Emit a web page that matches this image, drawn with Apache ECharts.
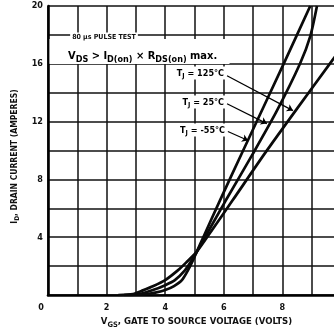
<!DOCTYPE html>
<html><head><meta charset="utf-8">
<script src="https://cdn.jsdelivr.net/npm/echarts@6/dist/echarts.min.js"></script>
<style>html,body{margin:0;padding:0;background:#fff}#c{width:334px;height:334px}</style>
</head><body><div id="c"></div>
<script>
const FONT = "'Liberation Sans Narrow','DejaVu Sans Condensed','Roboto Condensed',sans-serif";

// Axis tick labels shown
const xTickLabels = [0, 2, 4, 6, 8];
const yTickLabels = [4, 8, 12, 16, 20];

// Curve data (VGS volts, ID amperes)
const vgsM55 = [2.8, 3.3, 3.7, 4.0, 4.3, 4.57, 4.78, 4.95, 5.08, 5.3, 5.87, 6.66, 8.09, 8.95];
const idM55  = [0, 0.05, 0.18, 0.34, 0.62, 1.03, 1.72, 2.41, 3.0, 4.0, 6.55, 10.0, 16.2, 20.0];

const vgs25 = [2.6, 3.1, 3.58, 4.0, 4.33, 4.68, 4.91, 5.08, 6.04, 7.0, 7.8, 8.6, 8.95, 9.18];
const id25  = [0, 0.06, 0.34, 0.68, 1.03, 1.72, 2.41, 3.0, 6.45, 9.8, 12.7, 16.0, 17.9, 20.0];

const vgs125 = [2.4, 2.9, 3.24, 3.6, 4.0, 4.44, 4.74, 5.08, 5.6, 6.3, 7.4, 8.5, 9.69, 10.0];
const id125  = [0, 0.07, 0.32, 0.62, 1.03, 1.72, 2.3, 3.0, 4.5, 6.55, 9.8, 12.9, 16.2, 17.05];

// Annotation arrows in data coordinates: [fromX, fromY, toX, toY]
const arrow125 = [6.11, 15.17, 8.36, 12.76];
const arrow25  = [6.11, 13.24, 7.47, 11.86];
const arrowM55 = [6.14, 11.31, 6.83, 10.69];

function pairs(xs, ys) { return xs.map((x, i) => [x, ys[i]]); }

const chart = echarts.init(document.getElementById('c'), null, {renderer: 'canvas'});

const lineBase = {
  type: 'line', showSymbol: false, symbol: 'none', smooth: 0.25,
  lineStyle: {color: '#0a0a0a', width: 2.7}, z: 3, silent: true, clip: true
};

function arrowItem(a) {
  return [{coord: [a[0], a[1]]}, {coord: [a[2], a[3]]}];
}

const sub = {fontFamily: FONT, fontWeight: 'bold', color: '#111'};

chart.setOption({
  animation: false,
  backgroundColor: '#fff',
  grid: {left: 48, top: 6, width: 293, height: 289, containLabel: false, outerBoundsMode: 'none'},
  xAxis: {
    type: 'value', min: 0, max: 10, interval: 1,
    axisLine: {show: true, lineStyle: {color: '#000', width: 2.6}},
    axisTick: {show: false},
    splitLine: {show: true, lineStyle: {color: '#111', width: 1.5}},
    axisLabel: {
      margin: 8, color: '#111', fontFamily: FONT, fontWeight: 'bold', fontSize: 9,
      formatter: v => xTickLabels.includes(v) ? (v === 0 ? '{z|0}' : String(v)) : '',
      rich: {z: {padding: [0, 14, 0, 0], fontFamily: FONT, fontWeight: 'bold', fontSize: 9, color: '#111'}}
    },
    name: '{m|V}{s|GS}{m|, GATE TO SOURCE VOLTAGE (VOLTS)}',
    nameLocation: 'middle', nameGap: 18,
    nameTextStyle: {
      padding: [0, 0, 0, 4],
      rich: {
        m: Object.assign({fontSize: 9.5, lineHeight: 14, verticalAlign: 'bottom'}, sub),
        s: Object.assign({fontSize: 7.5, lineHeight: 14, verticalAlign: 'bottom', padding: [0, 0, -2, 0]}, sub)
      }
    }
  },
  yAxis: {
    type: 'value', min: 0, max: 20, interval: 2,
    axisLine: {show: true, lineStyle: {color: '#000', width: 2.6}},
    axisTick: {show: false},
    splitLine: {show: true, lineStyle: {color: '#111', width: 1.5}},
    axisLabel: {
      margin: 5, color: '#111', fontFamily: FONT, fontWeight: 'bold', fontSize: 9,
      formatter: v => yTickLabels.includes(v) ? String(v) : ''
    },
    name: '{m|I}{s|D}{m|, DRAIN CURRENT (AMPERES)}',
    nameLocation: 'middle', nameGap: 22, nameRotate: 90,
    nameTextStyle: {
      padding: [0, 12, 0, 0],
      rich: {
        m: Object.assign({fontSize: 8.5, lineHeight: 12, verticalAlign: 'bottom'}, sub),
        s: Object.assign({fontSize: 6.5, lineHeight: 12, verticalAlign: 'bottom', padding: [0, 0, -2, 0]}, sub)
      }
    }
  },
  series: [
    Object.assign({}, lineBase, {
      name: 'TJ = -55°C', data: pairs(vgsM55, idM55),
      markLine: {
        silent: true, symbol: ['none', 'arrow'], symbolSize: 6, animation: false,
        label: {show: false},
        lineStyle: {color: '#000', width: 1.2, type: 'solid'},
        data: [arrowItem(arrow125), arrowItem(arrow25), arrowItem(arrowM55)]
      }
    }),
    Object.assign({}, lineBase, {name: 'TJ = 25°C', data: pairs(vgs25, id25)}),
    Object.assign({}, lineBase, {name: 'TJ = 125°C', data: pairs(vgs125, id125)})
  ],
  graphic: [
    {type: 'rect', z: 90, silent: true, shape: {x: 49.5, y: 39, width: 180, height: 25}, style: {fill: '#fff'}},
    {type: 'text', z: 100, silent: true, x: 104, y: 37,
      style: {text: '80 µs PULSE TEST', font: "bold 7px " + FONT, fill: '#111', align: 'center', verticalAlign: 'middle',
        backgroundColor: '#fff', padding: [1, 2]}},
    {type: 'text', z: 100, silent: true, x: 68, y: 55,
      style: {
        text: '{v|V}{s|DS}{v| > I}{s|D(on)}{v| × R}{s|DS(on)}{v| max.}',
        align: 'left', verticalAlign: 'middle',
        rich: {
          v: Object.assign({fontSize: 11, lineHeight: 14, verticalAlign: 'bottom'}, sub),
          s: Object.assign({fontSize: 9, lineHeight: 14, verticalAlign: 'bottom', padding: [0, 0, -2, 0]}, sub)
        }
      }},
    {type: 'text', z: 100, silent: true, x: 226, y: 73,
      style: {text: '{v|T}{s|J}{v| = 125°C}', align: 'right', verticalAlign: 'middle', backgroundColor: '#fff', padding: [1, 2],
        rich: {v: Object.assign({fontSize: 9, lineHeight: 11, verticalAlign: 'bottom'}, sub),
               s: Object.assign({fontSize: 7, lineHeight: 11, verticalAlign: 'bottom', padding: [0, 0, -1, 0]}, sub)}}},
    {type: 'text', z: 100, silent: true, x: 226, y: 102,
      style: {text: '{v|T}{s|J}{v| = 25°C}', align: 'right', verticalAlign: 'middle', backgroundColor: '#fff', padding: [1, 2],
        rich: {v: Object.assign({fontSize: 9, lineHeight: 11, verticalAlign: 'bottom'}, sub),
               s: Object.assign({fontSize: 7, lineHeight: 11, verticalAlign: 'bottom', padding: [0, 0, -1, 0]}, sub)}}},
    {type: 'text', z: 100, silent: true, x: 227, y: 130,
      style: {text: '{v|T}{s|J}{v| = -55°C}', align: 'right', verticalAlign: 'middle', backgroundColor: '#fff', padding: [1, 2],
        rich: {v: Object.assign({fontSize: 9, lineHeight: 11, verticalAlign: 'bottom'}, sub),
               s: Object.assign({fontSize: 7, lineHeight: 11, verticalAlign: 'bottom', padding: [0, 0, -1, 0]}, sub)}}}
  ]
});
</script>
</body></html>
